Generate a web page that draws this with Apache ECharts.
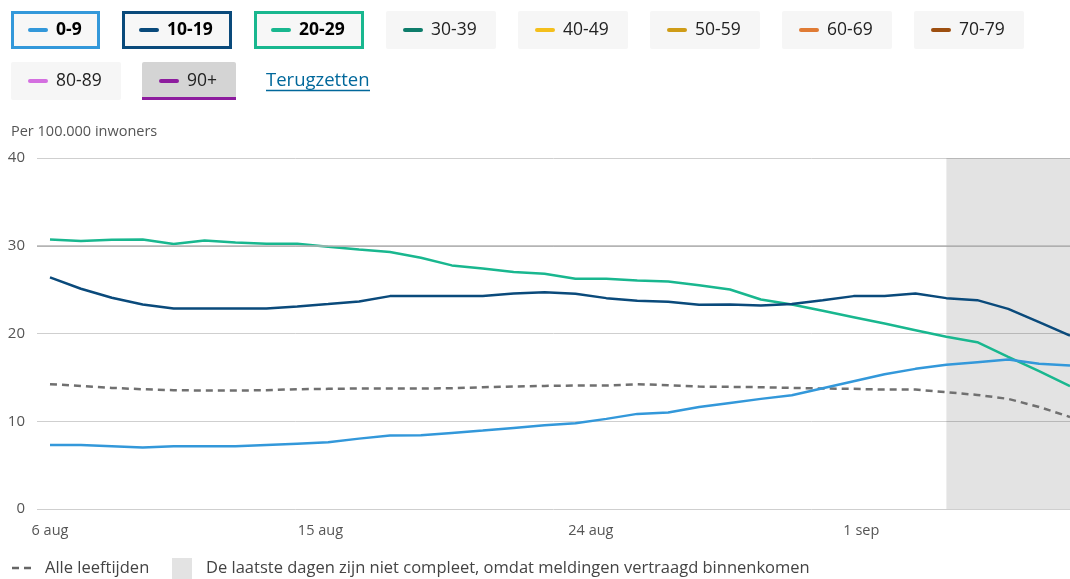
<!DOCTYPE html>
<html>
<head>
<meta charset="utf-8">
<script src="https://cdn.jsdelivr.net/npm/echarts@6/dist/echarts.min.js"></script>
<style>
  html, body { margin: 0; padding: 0; background: #fff; }
  #chart { width: 1070px; height: 579px; }
</style>
</head>
<body>
<div id="chart"></div>
<script>
// ---- data ----
const dates = ['6 aug','7 aug','8 aug','9 aug','10 aug','11 aug','12 aug','13 aug','14 aug','15 aug',
  '16 aug','17 aug','18 aug','19 aug','20 aug','21 aug','22 aug','23 aug','24 aug','25 aug',
  '26 aug','27 aug','28 aug','29 aug','30 aug','31 aug','1 sep','2 sep','3 sep','4 sep',
  '5 sep','6 sep','7 sep','8 sep'];

const age0_9 = [7.30,7.30,7.15,7.00,7.15,7.15,7.15,7.30,7.45,7.60,8.02,
  8.37,8.40,8.67,8.94,9.24,9.54,9.77,10.27,10.84,10.99,11.63,
  12.09,12.55,12.97,13.76,14.56,15.36,15.97,16.43,16.73,17.03,16.54,16.35];
const age10_19 = [26.39,25.10,24.07,23.31,22.85,22.85,22.85,22.85,23.08,23.35,23.65,
  24.26,24.26,24.26,24.26,24.56,24.71,24.52,24.03,23.73,23.61,23.27,
  23.31,23.19,23.35,23.80,24.26,24.26,24.56,24.03,23.80,22.81,21.29,19.77];
const age20_29 = [30.72,30.53,30.68,30.72,30.19,30.61,30.38,30.23,30.23,29.89,29.58,
  29.28,28.63,27.76,27.41,27.00,26.81,26.24,26.24,26.05,25.93,25.51,
  25.02,23.88,23.31,22.59,21.86,21.14,20.38,19.62,19.01,17.34,15.70,13.99];
const allAges = [14.22,14.03,13.80,13.65,13.54,13.50,13.50,13.54,13.65,13.69,13.73,
  13.73,13.73,13.76,13.88,13.95,14.03,14.07,14.07,14.22,14.11,13.95,
  13.92,13.88,13.80,13.73,13.69,13.61,13.61,13.31,13.00,12.55,11.63,10.49];

const incompleteFrom = '4 sep';   // shaded: last days not complete

const tickLabels = ['6 aug','15 aug','24 aug','1 sep'];
const tickPositions = [0, 8.75, 17.5, 26.25];   // in day-index units, as placed in the reference
const yTicks = [0, 10, 20, 30, 40];

const ageGroups = ['0-9','10-19','20-29','30-39','40-49','50-59','60-69','70-79','80-89','90+'];
const ageColors = ['#3398da','#0a4a7b','#19b78f','#0e7d6b','#f4bf1c','#cf9c17','#e07b35','#9d4f10','#d46fe0','#8d1c9e'];
const selectedGroups = ['0-9','10-19','20-29'];
const hoveredGroup = '90+';

const yAxisTitle = 'Per 100.000 inwoners';
const resetLabel = 'Terugzetten';
const allAgesLabel = 'Alle leeftijden';
const incompleteLabel = 'De laatste dagen zijn niet compleet, omdat meldingen vertraagd binnenkomen';

// ---- chart ----
const FONT = '"Open Sans", "Noto Sans", sans-serif';
const chart = echarts.init(document.getElementById('chart'), null, { renderer: 'canvas' });

function pairs(arr) { return arr.map((v, i) => [i, v]); }
function colorOf(g) { return ageColors[ageGroups.indexOf(g)]; }

// legend buttons (layout only)
const rowLayout = [
  { y: 11, items: ['0-9','10-19','20-29','30-39','40-49','50-59','60-69','70-79'],
    lefts: [11,122,254,386,518,650,782,914], widths: [89,110,110,110,110,110,110,110] },
  { y: 62, items: ['80-89','90+'], lefts: [11,142], widths: [110,94] }
];
const BTN_H = 38;
const graphics = [];
rowLayout.forEach(row => {
  row.items.forEach((g, k) => {
    const x = row.lefts[k], w = row.widths[k], y = row.y;
    const sel = selectedGroups.includes(g);
    const hov = g === hoveredGroup;
    const col = colorOf(g);
    if (sel) {
      graphics.push({ type: 'rect', shape: { x: x + 1.5, y: y + 1.5, width: w - 3, height: BTN_H - 3 },
        style: { fill: '#f7f7f7', stroke: col, lineWidth: 3 } });
    } else {
      graphics.push({ type: 'rect', shape: { x: x, y: y, width: w, height: BTN_H, r: 2 },
        style: { fill: hov ? '#d4d4d4' : '#f6f6f6' } });
      if (hov) {
        graphics.push({ type: 'rect', shape: { x: x, y: y + BTN_H - 3, width: w, height: 3 },
          style: { fill: col } });
      }
    }
    graphics.push({ type: 'line', shape: { x1: x + 19, y1: y + 19, x2: x + 35, y2: y + 19 },
      style: { stroke: col, lineWidth: 4, lineCap: 'round' } });
    graphics.push({ type: 'text', x: x + 45, y: y + 19,
      style: { text: g, fill: sel ? '#000' : '#222', font: (sel ? 'bold ' : '') + '17.5px ' + FONT,
        verticalAlign: 'middle' } });
  });
});
// reset link
graphics.push({ type: 'text', x: 266, y: 81,
  style: { text: resetLabel, fill: '#01689b', font: '18.5px ' + FONT, verticalAlign: 'middle' } });
graphics.push({ type: 'line', shape: { x1: 266, y1: 90.5, x2: 370, y2: 90.5 },
  style: { stroke: '#01689b', lineWidth: 1.5 } });
// y axis title
graphics.push({ type: 'text', x: 11, y: 132,
  style: { text: yAxisTitle, fill: '#555', font: '14.5px ' + FONT, verticalAlign: 'middle' } });
// bottom legend
graphics.push({ type: 'line', shape: { x1: 12, y1: 568, x2: 31, y2: 568 },
  style: { stroke: '#666', lineWidth: 2.5, lineDash: [7, 5] } });
graphics.push({ type: 'text', x: 45, y: 568,
  style: { text: allAgesLabel, fill: '#444', font: '16.5px ' + FONT, verticalAlign: 'middle' } });
graphics.push({ type: 'rect', shape: { x: 172, y: 558, width: 20, height: 21 },
  style: { fill: '#e3e3e3' } });
graphics.push({ type: 'text', x: 206, y: 568,
  style: { text: incompleteLabel, fill: '#444', font: '16.5px ' + FONT, verticalAlign: 'middle' } });

const lineSeries = (name, data, color, extra) => Object.assign({
  name, type: 'line', data: pairs(data), showSymbol: false, symbol: 'none',
  lineStyle: { color, width: 2.5 }, itemStyle: { color }, silent: true, animation: false
}, extra || {});

const option = {
  animation: false,
  textStyle: { fontFamily: FONT },
  grid: { left: 37, right: 0, top: 158, bottom: 70, containLabel: false },
  xAxis: {
    type: 'value', min: -0.42, max: dates.length - 1,
    axisLine: { show: false }, axisTick: { show: false }, splitLine: { show: false },
    axisLabel: {
      customValues: tickPositions,
      formatter: v => { const k = tickPositions.indexOf(v); return k >= 0 ? tickLabels[k] : ''; },
      color: '#555', fontSize: 14.5, margin: 14, fontFamily: FONT
    }
  },
  yAxis: {
    type: 'value', min: yTicks[0], max: yTicks[yTicks.length - 1], interval: 10,
    axisLine: { show: false }, axisTick: { show: false },
    axisLabel: { color: '#555', fontSize: 15, margin: 12, fontFamily: FONT },
    splitLine: { lineStyle: { color: ['#cfcfcf','#cfcfcf','#cfcfcf','#b5b5b5','#cfcfcf'], width: 1 } }
  },
  graphic: graphics,
  series: [
    lineSeries(allAgesLabel, allAges, '#707070', {
      lineStyle: { color: '#707070', width: 2.5, type: [7, 5] },
      markArea: { silent: true, itemStyle: { color: 'rgba(0,0,0,0.11)' },
        data: [[{ xAxis: dates.indexOf(incompleteFrom) }, { xAxis: dates.length - 1 }]] },
      markLine: { silent: true, symbol: 'none', label: { show: false },
        lineStyle: { color: '#b5b5b5', width: 1.5, type: 'solid' }, data: [{ yAxis: 30 }] },
      z: 2
    }),
    lineSeries('20-29', age20_29, colorOf('20-29'), { z: 3 }),
    lineSeries('10-19', age10_19, colorOf('10-19'), { z: 4 }),
    lineSeries('0-9', age0_9, colorOf('0-9'), { z: 5 })
  ]
};
chart.setOption(option);
</script>
</body>
</html>
